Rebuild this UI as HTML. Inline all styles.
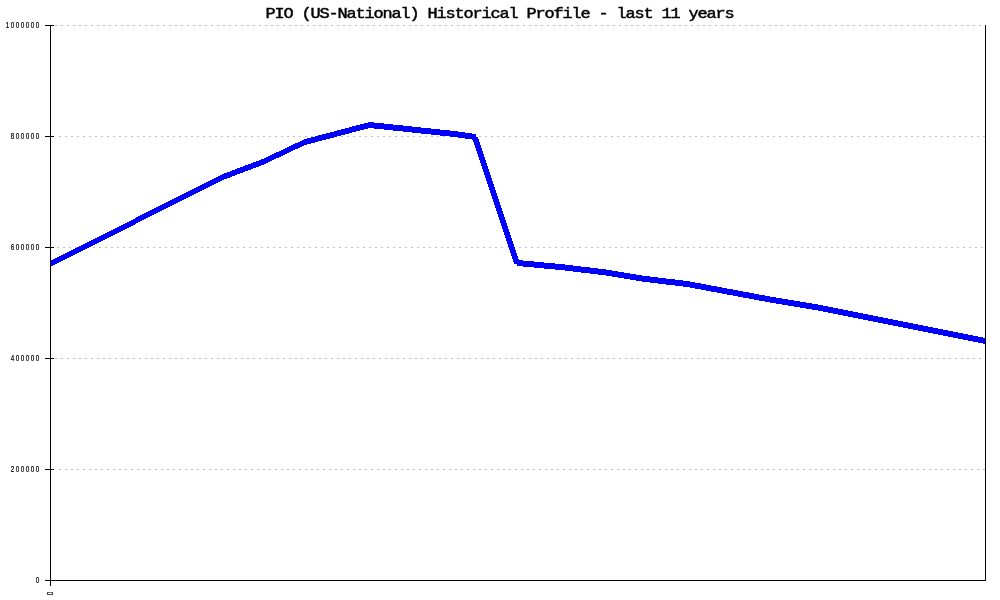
<!DOCTYPE html>
<html lang="en"><head><meta charset="utf-8"><title>PIO (US-National) Historical Profile - last 11 years</title>
<style>
html,body{margin:0;padding:0;background:#fff;}
body{width:1000px;height:600px;overflow:hidden;position:relative;}
svg{position:absolute;left:0;top:0;display:block;will-change:transform;}
.t{font-family:"Liberation Mono",monospace;font-size:14.6px;font-weight:normal;fill:#000;stroke:#000;stroke-width:0.45px;}
.s{font-family:"Liberation Sans",sans-serif;font-size:8.6px;font-weight:normal;fill:#000;stroke:#000;stroke-width:0.22px;}
</style></head><body>
<svg width="1000" height="600" viewBox="0 0 1000 600">
<rect width="1000" height="600" fill="#fff"/>

<g shape-rendering="crispEdges" stroke="#bebebe" stroke-width="1" stroke-dasharray="2 4">
<line x1="55" y1="25.5" x2="985" y2="25.5"/>
<line x1="59" y1="136.5" x2="985" y2="136.5"/>
<line x1="57" y1="247.5" x2="985" y2="247.5"/>
<line x1="55" y1="358.5" x2="985" y2="358.5"/>
<line x1="59" y1="469.5" x2="985" y2="469.5"/>
</g>
<g shape-rendering="crispEdges" fill="#0000ff">
<polygon points="50,261.25 136,217.75 136,223.75 50,267.25"/>
<polygon points="135,218.25 221.4,174.55 221.4,180.55 135,224.25"/>
<polygon points="220.4,174.99 263.68,158.58 263.68,164.58 220.4,180.99"/>
<polygon points="262.68,159.01 305.27,138.89 305.27,144.89 262.68,165.01"/>
<polygon points="304.27,139.26 370,121.87 370,127.87 304.27,145.26"/>
<polygon points="369,121.95 455.13,131.07 455.13,137.07 369,127.95"/>
<polygon points="454.13,130.95 476,134.07 476,140.07 454.13,136.95"/>
<polygon points="471.83,137 477.83,137 520.17,264 514.17,264"/>
<polygon points="517,259.95 563.03,264.27 563.03,270.27 517,265.95"/>
<polygon points="562.03,264.16 606.1,269.49 606.1,275.49 562.03,270.16"/>
<polygon points="605.1,269.35 643.83,275.8 643.83,281.8 605.1,275.35"/>
<polygon points="642.83,275.66 688.02,281.1 688.02,287.1 642.83,281.66"/>
<polygon points="687.02,280.95 770.88,296.65 770.88,302.65 687.02,286.95"/>
<polygon points="769.88,296.48 818.5,304.58 818.5,310.58 769.88,302.48"/>
<polygon points="817.5,304.4 986,338.1 986,344.1 817.5,310.4"/>
</g>
<g shape-rendering="crispEdges" fill="#000">
<rect x="50" y="25" width="1" height="556"/>
<rect x="985" y="25" width="1" height="556"/>
<rect x="50" y="580" width="936" height="1"/>
<rect x="45" y="25" width="9" height="1"/>
<rect x="45" y="136" width="9" height="1"/>
<rect x="45" y="247" width="9" height="1"/>
<rect x="45" y="358" width="9" height="1"/>
<rect x="45" y="469" width="9" height="1"/>
<rect x="45" y="580" width="5" height="1"/>
<rect x="50" y="580" width="1" height="6"/>
</g>
<text class="t" transform="translate(265.4 17.5) scale(1.16 1)" x="0" y="0" textLength="404.45" lengthAdjust="spacing" xml:space="preserve">PIO (US-National) Historical Profile - last 11 years</text>
<text class="s" transform="translate(5.7 28) scale(0.74 1)" x="0" y="0" textLength="45.32" lengthAdjust="spacing">1000000</text>
<text class="s" transform="translate(10.7 139) scale(0.74 1)" x="0" y="0" textLength="38.57" lengthAdjust="spacing">800000</text>
<text class="s" transform="translate(10.7 250) scale(0.74 1)" x="0" y="0" textLength="38.57" lengthAdjust="spacing">600000</text>
<text class="s" transform="translate(10.7 361) scale(0.74 1)" x="0" y="0" textLength="38.57" lengthAdjust="spacing">400000</text>
<text class="s" transform="translate(10.7 472) scale(0.74 1)" x="0" y="0" textLength="38.57" lengthAdjust="spacing">200000</text>
<text class="s" transform="translate(35.7 583) scale(0.74 1)" x="0" y="0">0</text>
<text class="s" transform="translate(53 595.3) rotate(-90) scale(0.74 1)" x="0" y="0">0</text>
</svg></body></html>
